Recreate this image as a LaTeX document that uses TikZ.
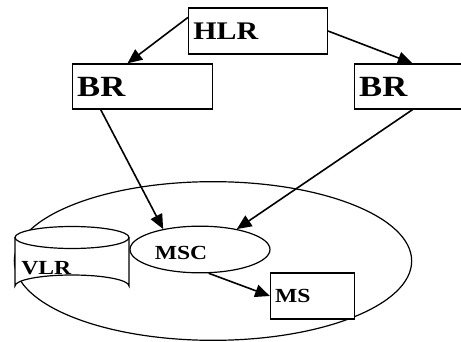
\documentclass[tikz,border=0pt]{standalone}
\usepackage{fontspec}
\setmainfont{Liberation Serif}
\usetikzlibrary{arrows.meta,shapes.geometric}

\newcommand{\wide}[1]{\scalebox{1.18}[1]{\bfseries #1}}

\tikzset{
  box/.style={draw, line width=1pt, fill=white, inner sep=3.5pt, align=left},
  link/.style={line width=1.2pt, -{Triangle[length=11pt,width=9.5pt]}}
}

\begin{document}
\begin{tikzpicture}[x=0.75pt, y=-0.75pt]
        \useasboundingbox (0,0) rectangle (461,342);

        % зона
        \node [draw, ellipse, line width=0.9pt, minimum width=298pt, minimum height=119pt] (cell) at (213,261) {};

        % база VLR
        \draw [line width=0.9pt, fill=white] (15,237.5) -- (15,286) arc [start angle=180, end angle=360, x radius=57, y radius=11] -- (129,237.5);
        \draw [line width=0.9pt, fill=white] (72,237.5) ellipse [x radius=57, y radius=11];
        \node [anchor=west, inner sep=0pt, font=\fontsize{15}{18}\selectfont] (vlr) at (21,268) {\wide{VLR}};

        % MSC
        \node [draw, ellipse, line width=0.9pt, fill=white, minimum width=105pt, minimum height=35pt] (msc) at (200,249.5) {};
        \node [inner sep=0pt, font=\fontsize{15}{18}\selectfont] (msclabel) at (181,253) {\wide{MSC}};

        % блоки
        \node [box, text width=97pt, minimum height=34.5pt, font=\fontsize{19}{22}\selectfont] (hlr) at (258,31) {\wide{HLR}};
        \node [box, text width=98pt, minimum height=33.75pt, font=\fontsize{22}{26}\selectfont] (brl) at (142.5,86.5) {\wide{BR}};
        \node [box, text width=80pt, minimum height=33.75pt, font=\fontsize{22}{26}\selectfont] (brr) at (412.5,86.5) {\wide{BR}};
        \node [box, text width=56pt, minimum height=34.5pt, font=\fontsize{15}{18}\selectfont] (ms) at (312.5,296) {\wide{MS}};

        % связи
        \draw [link] (hlr.169.5) -- (brl.123);
        \draw [link] (hlr.east) -- (brr.north);
        \draw [link] (brl.209) -- (msc.151);
        \draw [link] (brr.south) -- (msc.29);
        \draw [link] (msc.-70) -- (ms.west);
    \end{tikzpicture}
\end{document}
